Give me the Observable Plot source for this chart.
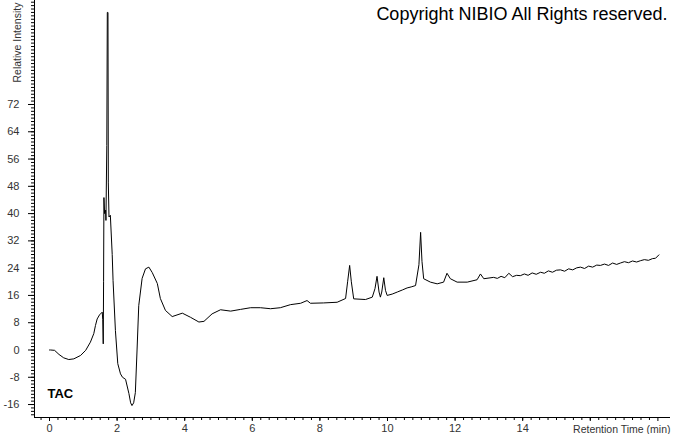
<!DOCTYPE html>
<html>
<head>
<meta charset="utf-8">
<script src="https://cdn.jsdelivr.net/npm/d3@7"></script>
<script src="https://cdn.jsdelivr.net/npm/@observablehq/plot@0.6"></script>
<style>
  html, body { margin: 0; padding: 0; background: #fff; }
</style>
</head>
<body>
<div id="chart"></div>
<script>
// Retention time (min)
const times = [
  0.00, 0.03, 0.15, 0.28, 0.42, 0.57, 0.72, 0.92, 1.07, 1.21, 1.31, 1.36, 1.41, 1.48, 1.56,
  1.575, 1.59, 1.60, 1.61, 1.63, 1.66, 1.67, 1.695, 1.71, 1.73, 1.74, 1.76, 1.80, 1.855, 1.88,
  1.95, 2.02, 2.10, 2.16, 2.25, 2.35, 2.40, 2.44, 2.49, 2.54, 2.59, 2.64, 2.74, 2.84, 2.94,
  3.04, 3.19, 3.28, 3.43, 3.63, 3.93, 4.17, 4.42, 4.57, 4.81, 5.06, 5.36, 5.65, 5.95, 6.24,
  6.54, 6.83, 7.13, 7.43, 7.62, 7.72, 8.11, 8.51, 8.76, 8.82, 8.88, 8.93, 9.00, 9.35, 9.55,
  9.63, 9.69, 9.75, 9.79, 9.83, 9.89, 9.94, 9.99, 10.14, 10.29, 10.44, 10.58, 10.70, 10.83, 10.93,
  10.98, 11.02, 11.07, 11.27, 11.47, 11.66, 11.76, 11.86, 12.06, 12.36, 12.65, 12.75, 12.85, 13.14, 13.25,
  13.36, 13.47, 13.59, 13.70, 13.82, 13.93, 14.05, 14.16, 14.28, 14.40, 14.53, 14.64, 14.76, 14.88, 15.00,
  15.12, 15.24, 15.36, 15.48, 15.60, 15.71, 15.83, 15.95, 16.07, 16.19, 16.30, 16.42, 16.54, 16.66, 16.78,
  16.89, 17.01, 17.13, 17.25, 17.37, 17.49, 17.60, 17.72, 17.84, 17.93, 18.03
];
// Relative intensity
const intensity = [
  0.0, 0.0, -0.1, -1.3, -2.3, -2.8, -2.6, -1.6, -0.1, 2.3, 4.8, 7.2, 9.1, 10.3, 11.1,
  9.0, 1.8, 20.0, 44.7, 40.0, 41.0, 38.0, 60.0, 99.0, 99.0, 49.0, 39.0, 39.5, 28.0, 20.4,
  5.7, -4.0, -7.0, -8.0, -8.6, -12.8, -15.5, -16.3, -15.5, -12.5, 0.0, 13.0, 21.0, 23.8, 24.3,
  22.7, 19.5, 15.1, 11.6, 9.8, 10.8, 9.6, 8.2, 8.4, 10.6, 11.8, 11.4, 11.9, 12.4, 12.4,
  12.1, 12.4, 13.3, 13.7, 14.5, 13.7, 13.8, 14.0, 15.1, 20.0, 24.8, 20.0, 15.0, 14.8, 15.5,
  18.0, 21.6, 17.0, 15.5, 17.0, 21.2, 17.5, 16.0, 16.4, 17.0, 17.6, 18.2, 18.5, 18.9, 25.0,
  34.5, 26.0, 20.9, 19.9, 19.4, 19.9, 22.5, 20.9, 19.9, 19.9, 20.6, 22.3, 20.9, 21.3, 21.0,
  21.6, 21.2, 22.5, 21.5, 21.9, 21.8, 22.3, 21.9, 22.6, 22.2, 22.8, 22.5, 23.2, 22.8, 23.4,
  23.5, 23.1, 23.8, 23.5, 24.1, 24.3, 23.9, 24.6, 24.3, 24.9, 24.8, 25.2, 24.8, 25.5, 25.1,
  25.5, 25.9, 25.6, 26.1, 25.8, 26.2, 26.5, 26.3, 26.8, 26.9, 27.9
];
const xLabelTicks = [0, 2, 4, 6, 8, 10, 12, 14];
const xMajorTicks = [0, 2, 4, 6, 8, 10, 12, 14, 16, 18];
const yLabelTicks = [-16, -8, 0, 8, 16, 24, 32, 40, 48, 56, 64, 72];
const title = "Copyright NIBIO All Rights reserved.";
const sampleLabel = "TAC";
const xTitle = "Retention Time (min)";
const yTitle = "Relative Intensity";

const data = times.map((t, i) => ({t, v: intensity[i]}));
const xDomain = [-0.444, 18.373];
const yDomain = [-19.8, 102.5];
const xMinor = d3.range(0, 73).map(i => -0.25 + i * 0.25).filter(d => d <= 18.3);
const yMinor = d3.range(-19, 103);

const chart = Plot.plot({
  width: 674,
  height: 434,
  marginLeft: 34,
  marginRight: 4,
  marginTop: 0,
  marginBottom: 17,
  style: {fontFamily: "'Liberation Sans', Arial, sans-serif", fontSize: "11px", background: "#fff", color: "#000"},
  x: {domain: xDomain},
  y: {domain: yDomain},
  marks: [
    Plot.axisY({ticks: yMinor, tickSize: 3, tickFormat: () => "", label: null}),
    Plot.axisY({ticks: yLabelTicks, tickSize: 6, tickPadding: 9, tickFormat: d => String(d), label: null, fill: "#333"}),
    Plot.axisX({ticks: xMinor, tickSize: 3, tickFormat: () => "", label: null}),
    Plot.axisX({ticks: xMajorTicks, tickSize: 4, tickFormat: () => "", label: null}),
    Plot.axisX({ticks: xLabelTicks, tickSize: 0, tickPadding: 7, tickFormat: d => String(d), label: null, fill: "#333"}),
    Plot.ruleX([xDomain[0]], {stroke: "#000"}),
    Plot.ruleY([yDomain[0]], {stroke: "#000"}),
    Plot.line(data, {x: "t", y: "v", stroke: "#000", strokeWidth: 1}),
    Plot.text([xTitle], {frameAnchor: "bottom-right", textAnchor: "end", lineAnchor: "middle", dx: 0, dy: 12, fontSize: 10.5, fill: "#333"}),
    Plot.text([yTitle], {frameAnchor: "top-left", rotate: -90, textAnchor: "start", lineAnchor: "middle", dx: -17, dy: 82, fontSize: 10.5, fill: "#333"}),
    Plot.text([title], {frameAnchor: "top-right", textAnchor: "end", lineAnchor: "middle", dx: -3, dy: 14, fontSize: 18, fill: "#000"}),
    Plot.text([sampleLabel], {frameAnchor: "bottom-left", textAnchor: "start", lineAnchor: "middle", dx: 13, dy: -24, fontSize: 13, fontWeight: "bold", fill: "#000"})
  ]
});
document.getElementById("chart").appendChild(chart);
</script>
</body>
</html>
